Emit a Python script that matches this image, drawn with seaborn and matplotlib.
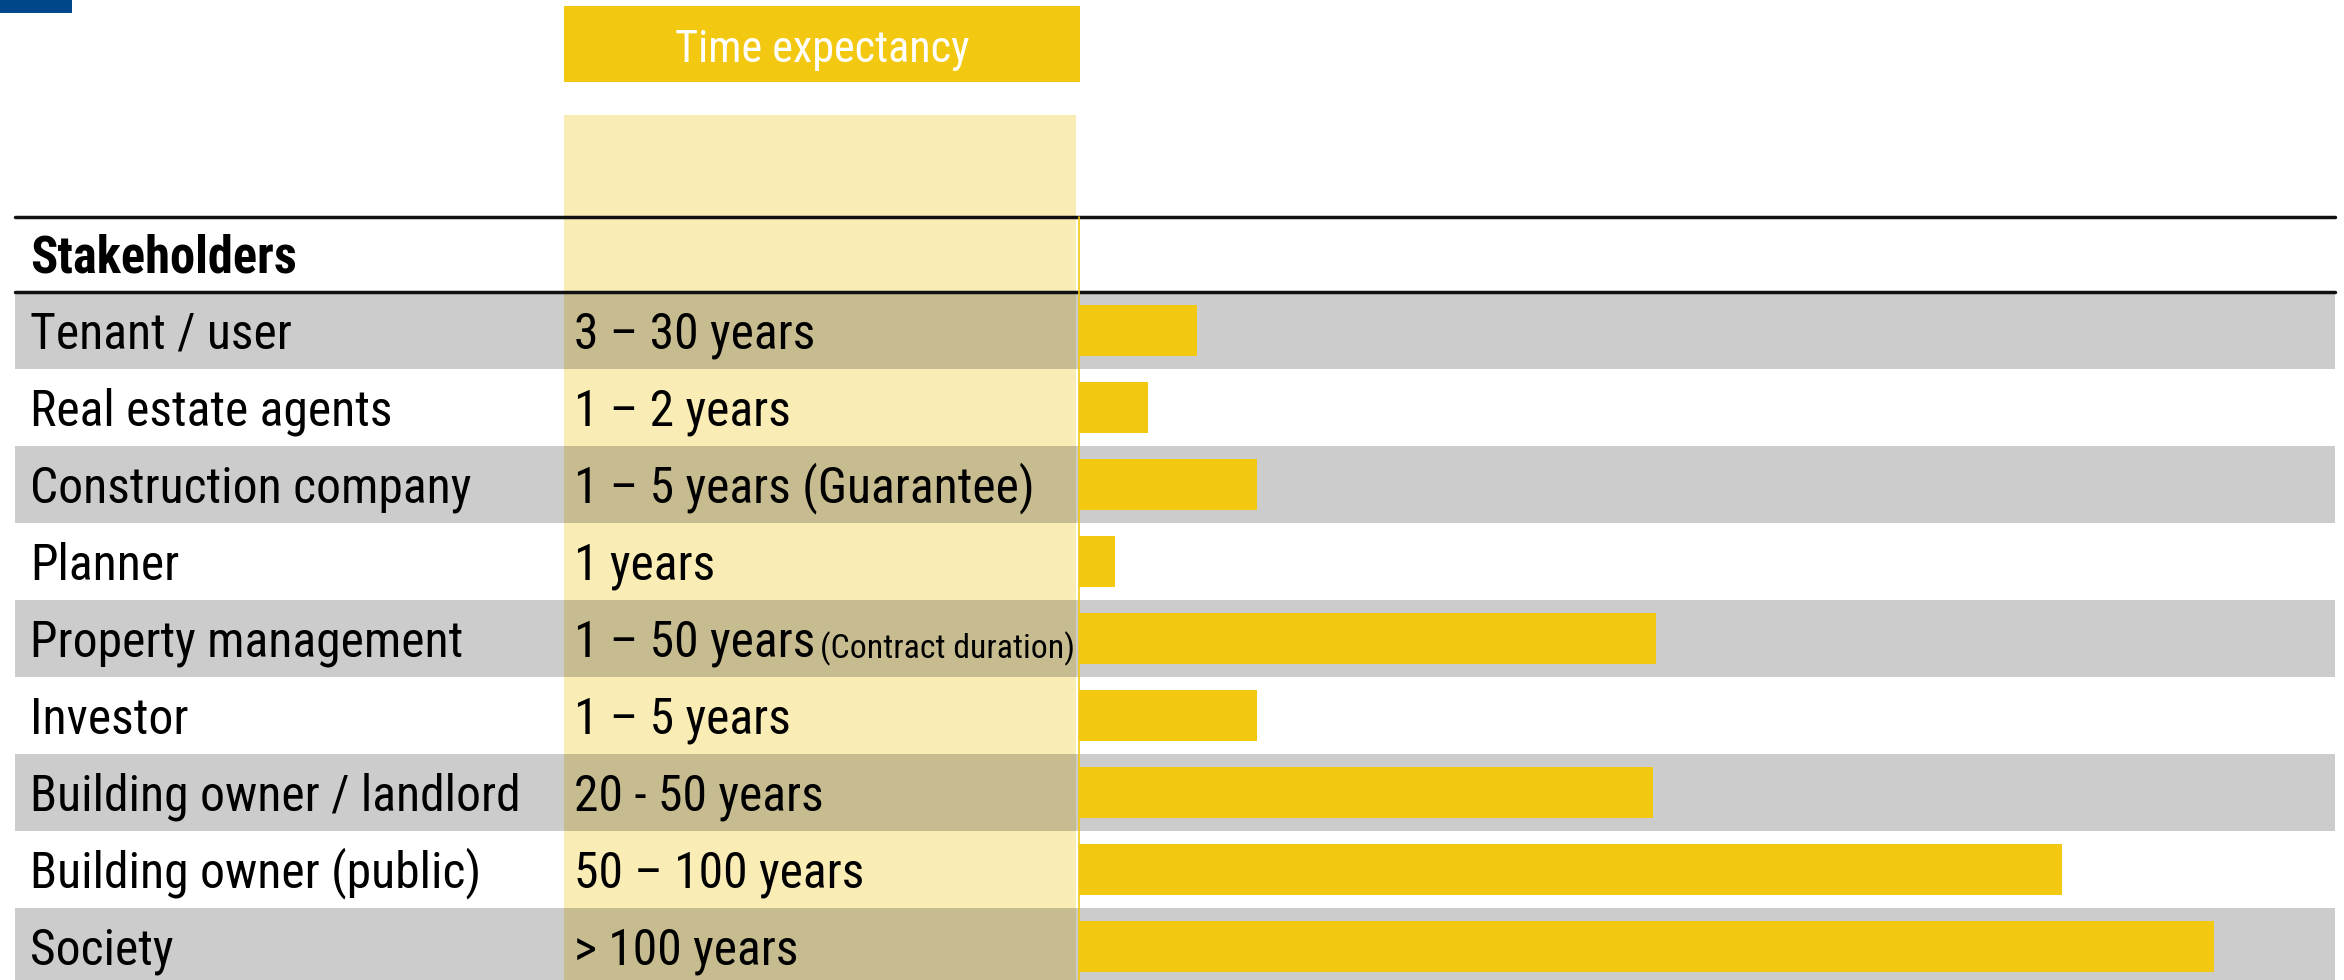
#%%
import os
import pandas as pd
import matplotlib
matplotlib.use("Agg")
import matplotlib.pyplot as plt
import matplotlib.font_manager as fm
from matplotlib.textpath import TextPath
import seaborn as sns

#%% Data
stakeholders = [
    "Tenant / user",
    "Real estate agents",
    "Construction company",
    "Planner",
    "Property management",
    "Investor",
    "Building owner / landlord",
    "Building owner (public)",
    "Society",
]
time_labels = [
    "3 – 30 years",
    "1 – 2 years",
    "1 – 5 years (Guarantee)",
    "1 years",
    "1 – 50 years",
    "1 – 5 years",
    "20 - 50 years",
    "50 – 100 years",
    "> 100 years",
]
# extra small note behind one of the time labels
time_notes = ["", "", "", "", "(Contract duration)", "", "", "", ""]
# bar length, in % of the bar panel width
bar_length = [9.4, 5.5, 14.2, 2.9, 45.9, 14.2, 45.7, 78.3, 90.4]

header_left = "Stakeholders"
header_col = "Time expectancy"

df = pd.DataFrame({"stakeholder": stakeholders, "length": bar_length})


#%% Fonts: the slide uses a narrow face, look for a condensed one
def find_narrow(bold):
    prefs = ["liberationsansnarrow", "robotocondensed", "opensans", "notosans",
             "dejavusans", "lato", "inter"]
    best, best_rank = None, 99
    for f in fm.fontManager.ttflist:
        b = os.path.basename(f.fname).lower()
        if not ("narrow" in b or "condensed" in b):
            continue
        if any(k in b for k in ["italic", "oblique", "light", "thin", "black",
                                "medium", "semi", "extra", "mono"]):
            continue
        if ("bold" in b) != bold:
            continue
        rank = next((i for i, p in enumerate(prefs) if p in b.replace("-", "").replace("_", "")), 50)
        if rank < best_rank:
            best, best_rank = f.fname, rank
    if best:
        return fm.FontProperties(fname=best)
    return fm.FontProperties(family="Liberation Sans",
                             weight="bold" if bold else "normal")


fp_reg = find_narrow(False)
fp_bold = find_narrow(True)


def fitted(fp, text, target_px):
    # font size (pt, dpi 100) so that text spans target_px
    w = TextPath((0, 0), text, size=100, prop=fp).get_extents().width
    p = fp.copy()
    p.set_size(100 * target_px * 0.72 / w)
    return p


fp_row = fitted(fp_reg, "Tenant / user", 259)
fp_head = fitted(fp_bold, header_left, 263)
fp_col = fitted(fp_reg, header_col, 292)
fp_note = fitted(fp_reg, "(Contract duration)", 250)

#%% Layout (pixels of the 2344x980 slide)
W, H = 2344, 980
yellow = "#F2C811"
light_yellow = "#F9ECB5"
blue = "#00468B"
row_h = 77
line1_y, line2_y = 217, 292
table_x0, table_x1 = 15, 2335
col_x0, col_x1 = 564, 1076
bar_x0 = 1079
text_dy = 4  # text sits a bit below the row middle

sns.set_theme(style="white")

fig = plt.figure(figsize=(W / 100, H / 100), dpi=100)
bg = fig.add_axes([0, 0, 1, 1])
bg.set_xlim(0, W)
bg.set_ylim(H, 0)
bg.axis("off")

# small blue tab in the corner
bg.add_patch(plt.Rectangle((0, 0), 72, 13, color=blue, lw=0))

# column header box and light column
bg.add_patch(plt.Rectangle((col_x0, 6), 516, 76, color=yellow, lw=0))
bg.text((col_x0 + 1080) / 2, 50, header_col, color="white", fontproperties=fp_col,
        ha="center", va="center")
bg.add_patch(plt.Rectangle((col_x0, 115), col_x1 - col_x0, H - 115,
                           color=light_yellow, lw=0))

# grey bands on every other row (darkens the column too)
for i in range(len(stakeholders)):
    top = line2_y + i * row_h
    if i % 2 == 0:
        bg.add_patch(plt.Rectangle((table_x0, top), table_x1 - table_x0, row_h,
                                   color="black", alpha=0.2, lw=0))

# header row and rules
bg.plot([table_x0, table_x1], [line1_y, line1_y], color="#111111", lw=2.5)
bg.plot([table_x0, table_x1], [line2_y, line2_y], color="#111111", lw=2.5)
bg.plot([bar_x0, bar_x0], [line1_y, H], color=yellow, lw=1.2)
bg.text(30, (line1_y + line2_y) / 2 + text_dy, header_left, fontproperties=fp_head,
        color="black", va="center", ha="left")

# row labels
for i, (name, tl, note) in enumerate(zip(stakeholders, time_labels, time_notes)):
    yc = line2_y + (i + 0.5) * row_h + text_dy
    bg.text(30, yc, name, fontproperties=fp_row, color="black",
            va="center", ha="left")
    t = bg.text(574, yc, tl, fontproperties=fp_row, color="black",
                va="center", ha="left")
    if note:
        bg.annotate(note, xy=(1, 0.02), xycoords=t, xytext=(3, 0),
                    textcoords="offset points", fontproperties=fp_note,
                    color="black", va="bottom", ha="left")

#%% Bars
n = len(stakeholders)
bottom = (H - (line2_y + n * row_h)) / H
ax = fig.add_axes([bar_x0 / W, bottom, (table_x1 - bar_x0) / W, n * row_h / H])
ax.patch.set_alpha(0)
sns.barplot(data=df, x="length", y="stakeholder", color=yellow, saturation=1,
            width=0.67, linewidth=0, orient="h", ax=ax)
ax.set_xlim(0, 100)
ax.set_ylim(n - 0.5, -0.5)
ax.axis("off")

fig.savefig("out.png", dpi=100)
